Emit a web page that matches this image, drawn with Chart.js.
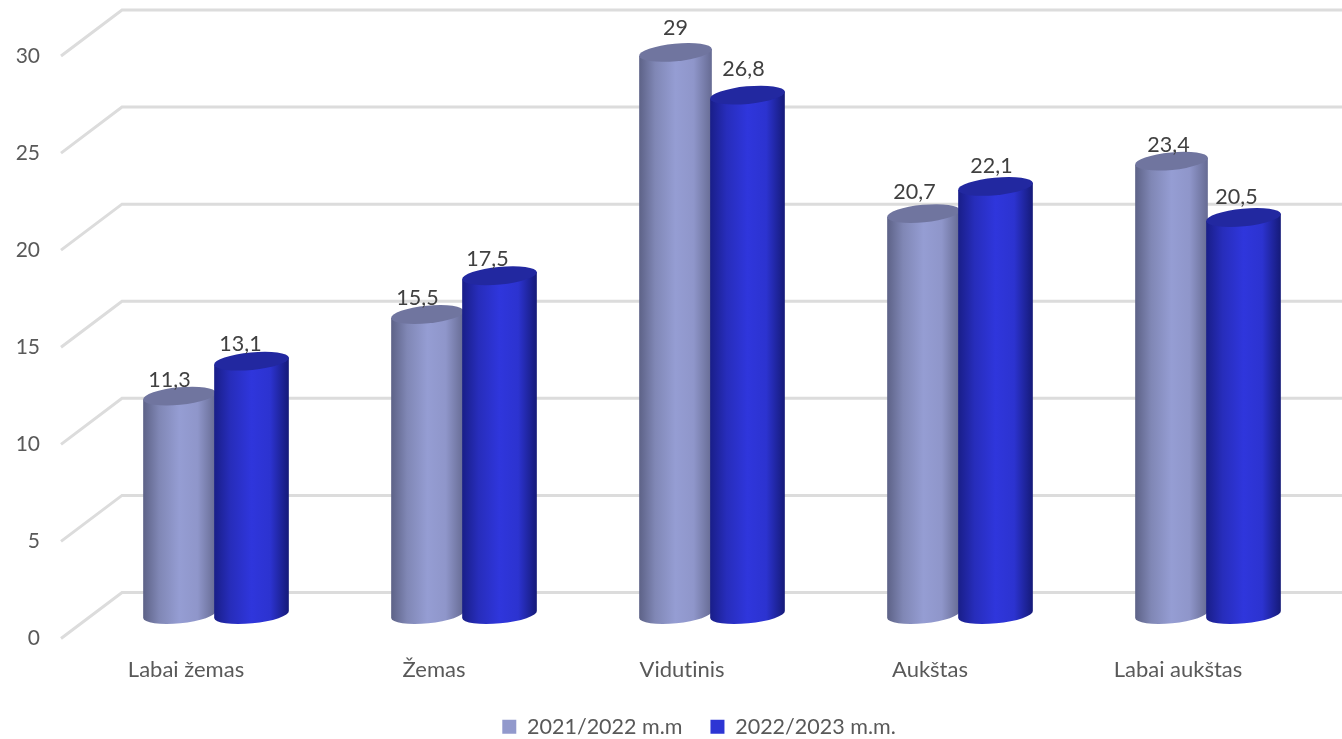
<!DOCTYPE html>
<html>
<head>
<meta charset="utf-8">
<style>html,body{margin:0;padding:0;background:#fff}canvas{display:block}</style>
<script src="https://cdn.jsdelivr.net/npm/chart.js@4"></script>
</head>
<body>
<canvas id="c" width="1342" height="739"></canvas>
<script>
const categories = ['Labai žemas', 'Žemas', 'Vidutinis', 'Aukštas', 'Labai aukštas'];
const seriesNames = ['2021/2022 m.m', '2022/2023 m.m.'];
const values2122 = [11.3, 15.5, 29, 20.7, 23.4];
const values2223 = [13.1, 17.5, 26.8, 22.1, 20.5];
const legendColors = ['#9299cc', '#2d35d4'];
const capColors = ['#70759f', '#2228a0'];
const bodyStops = [
  [[0,'#5d6287'],[0.22,'#8087b5'],[0.5,'#959dd3'],[0.75,'#8f96ca'],[1,'#666b93']],
  [[0,'#191e88'],[0.22,'#272dbb'],[0.5,'#2f36dc'],[0.75,'#2c33d0'],[1,'#151a78']]
];
// nudges of the value labels relative to the bar centre / top, in px
const labelNudgeX = [[-10,-10,0,-9,-3],[-12,-13,-5,-5,-8]];
const labelNudgeY = [[-16,-16,-24,-22,-16],[-17,-17,-26,-20,-20]];

const WALL_SHIFT = 23, TILT = 5.5 * Math.PI / 180, RY = 8.8;

const textSetup = {
  id: 'textSetup',
  beforeDraw(chart) { chart.ctx.textRendering = 'optimizeSpeed'; }
};

const wall = {
  id: 'wall',
  beforeDatasetsDraw(chart) {
    const {ctx, scales: {y}} = chart;
    ctx.save();
    ctx.strokeStyle = '#dcdcdc';
    ctx.lineWidth = 3;
    ctx.lineJoin = 'miter';
    y.ticks.forEach(t => {
      const py = y.getPixelForValue(t.value);
      ctx.beginPath();
      ctx.moveTo(61, py + WALL_SHIFT);
      ctx.lineTo(122, py - WALL_SHIFT);
      ctx.lineTo(1342, py - WALL_SHIFT);
      ctx.stroke();
    });
    ctx.restore();
  }
};

const cylinders = {
  id: 'cylinders',
  beforeDatasetDraw() { return false; },
  afterDatasetsDraw(chart) {
    const {ctx} = chart;
    ctx.save();
    [0, 1].forEach(d => {
      chart.getDatasetMeta(d).data.forEach(el => {
        const left = el.x - el.width / 2 - (d === 1 ? 2 : 0);
        const right = el.x + el.width / 2;
        const cx = (left + right) / 2, rx = (right - left) / 2;
        const rot = -TILT;
        const dx = rx * Math.cos(rot), dy = rx * Math.sin(-rot);
        const g = ctx.createLinearGradient(cx - dx, 0, cx + dx, 0);
        bodyStops[d].forEach(s => g.addColorStop(s[0], s[1]));
        ctx.fillStyle = g;
        ctx.beginPath();
        ctx.ellipse(cx, el.base - 1, rx, RY, rot, 0, Math.PI);
        ctx.lineTo(cx - dx, el.y + dy);
        ctx.lineTo(cx + dx, el.y - dy);
        ctx.closePath();
        ctx.fill();
        ctx.fillStyle = capColors[d];
        ctx.beginPath();
        ctx.ellipse(cx, el.y, rx, RY, rot, 0, Math.PI * 2);
        ctx.fill();
      });
    });
    ctx.fillStyle = '#404040';
    ctx.font = '21.5px Lato';
    ctx.textAlign = 'center';
    ctx.textBaseline = 'middle';
    [0, 1].forEach(d => {
      const src = chart.data.datasets[d].data;
      chart.getDatasetMeta(d).data.forEach((el, i) => {
        ctx.fillText(String(src[i]).replace('.', ','), el.x + labelNudgeX[d][i], el.y + labelNudgeY[d][i]);
      });
    });
    ctx.restore();
  }
};

const legendShift = {
  id: 'legendShift',
  afterLayout(chart) { chart.legend.left += 66; chart.legend.top = 739 - 12 - 11 - 28; }
};

new Chart(document.getElementById('c'), {
  type: 'bar',
  data: {
    labels: categories,
    datasets: [
      {label: seriesNames[0], data: values2122, backgroundColor: legendColors[0], barPercentage: 1, categoryPercentage: 0.5887},
      {label: seriesNames[1], data: values2223, backgroundColor: legendColors[1], barPercentage: 1, categoryPercentage: 0.5887}
    ]
  },
  plugins: [textSetup, wall, cylinders, legendShift],
  options: {
    responsive: false,
    animation: false,
    layout: {padding: {top: 33, right: 10, left: 0, bottom: 0}},
    scales: {
      x: {
        grid: {display: false, drawTicks: false},
        border: {display: false},
        afterFit(s) { s.height = 64; s.paddingLeft = 0; s.paddingRight = 0; },
        ticks: {color: '#595959', font: {family: 'Lato', size: 22}, padding: 41, labelOffset: -30, maxRotation: 0}
      },
      y: {
        min: 0, max: 30,
        grid: {display: false, drawTicks: false},
        border: {display: false},
        afterFit(s) { s.width = 92; s.paddingTop = 0; s.paddingBottom = 0; },
        ticks: {stepSize: 5, color: '#595959', font: {family: 'Lato', size: 21}, padding: 52, labelOffset: 23}
      }
    },
    plugins: {
      tooltip: {enabled: false},
      legend: {
        position: 'bottom',
        labels: {boxWidth: 14, boxHeight: 14, color: '#595959', font: {family: 'Lato', size: 21.5}, padding: 28}
      }
    }
  }
});
</script>
</body>
</html>
